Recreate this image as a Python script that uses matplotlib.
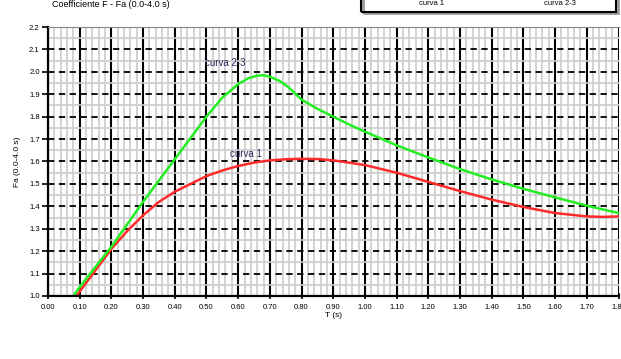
import matplotlib
matplotlib.use('Agg')
import matplotlib.pyplot as plt
from matplotlib.patches import Rectangle
from matplotlib.ticker import MultipleLocator

plt.rcParams['font.family'] = ['Liberation Sans', 'DejaVu Sans']

# curva 2-3 (verde)
t_verde = [0.08, 0.10, 0.15, 0.20, 0.25, 0.30, 0.35, 0.40, 0.45, 0.50, 0.55, 0.60, 0.63, 0.66,
           0.68, 0.70, 0.73, 0.76, 0.80, 0.85, 0.90, 0.95, 1.00, 1.10, 1.20, 1.30, 1.40, 1.50,
           1.60, 1.70, 1.80]
fa_verde = [1.00, 1.04, 1.13, 1.22, 1.32, 1.42, 1.515, 1.61, 1.705, 1.80, 1.885, 1.945, 1.97, 1.983,
            1.985, 1.978, 1.96, 1.93, 1.876, 1.835, 1.80, 1.765, 1.733, 1.672, 1.618, 1.566, 1.52, 1.478,
            1.44, 1.403, 1.37]

# curva 1 (rossa)
t_rossa = [0.09, 0.10, 0.15, 0.20, 0.25, 0.30, 0.35, 0.40, 0.45, 0.50, 0.55, 0.60, 0.65, 0.70,
           0.75, 0.80, 0.85, 0.90, 0.95, 1.00, 1.10, 1.20, 1.30, 1.40, 1.50, 1.60, 1.70, 1.75, 1.80]
fa_rossa = [1.00, 1.02, 1.115, 1.21, 1.29, 1.36, 1.42, 1.465, 1.50, 1.535, 1.56, 1.58, 1.595, 1.605,
            1.61, 1.612, 1.611, 1.605, 1.595, 1.584, 1.55, 1.509, 1.468, 1.43, 1.397, 1.37, 1.355, 1.353, 1.355]

W, H = 621, 359
fig = plt.figure(figsize=(W / 100, H / 100), dpi=100)
ax = fig.add_axes([48 / W, (H - 296) / H, (618.5 - 48) / W, (296 - 27) / H])

ax.set_xlim(0, 1.8)
ax.set_ylim(1.0, 2.2)
ax.xaxis.set_major_locator(MultipleLocator(0.1))
ax.xaxis.set_minor_locator(MultipleLocator(0.02))
ax.yaxis.set_major_locator(MultipleLocator(0.1))
ax.yaxis.set_minor_locator(MultipleLocator(0.05))

ax.grid(which='minor', axis='both', color='#cccccc', lw=1.2)
ax.grid(which='major', axis='x', color='black', lw=1.5)
ax.grid(which='major', axis='y', color='black', lw=1.3, ls=(0, (3.5, 2.5)))
ax.set_axisbelow(True)

ax.plot(t_rossa, fa_rossa, color='#ff2a2a', lw=1.8)
ax.plot(t_verde, fa_verde, color='#22ee22', lw=1.8)

ax.text(0.495, 2.04, 'curva 2-3', fontsize=7, color='#2a2a5a', ha='left', va='center')
ax.text(0.575, 1.635, 'curva 1', fontsize=7, color='#2a2a5a', ha='left', va='center')

ax.set_xticks([i / 10 for i in range(19)])
ax.set_xticklabels(['%.2f' % (i / 10) for i in range(19)])
ax.set_yticks([1 + i / 10 for i in range(13)])
ax.set_yticklabels(['%.1f' % (1 + i / 10) for i in range(13)])
ax.tick_params(axis='x', which='major', direction='inout', length=5, width=1.2, labelsize=5.5, pad=3)
ax.tick_params(axis='y', which='major', direction='out', length=4, width=1.2, labelsize=5.5, pad=2)
ax.tick_params(which='minor', length=0)

for s in ['left', 'bottom']:
    ax.spines[s].set_linewidth(1.6)
ax.spines['top'].set_color('#888888')
ax.spines['right'].set_visible(False)

ax.set_xlabel('T (s)', fontsize=6, labelpad=1)
ax.set_ylabel('Fa (0.0-4.0 s)', fontsize=6, labelpad=6)

# titolo e riquadro legenda in alto
fig.text(52 / W, 1.0, 'Coefficiente F - Fa (0.0-4.0 s)', fontsize=6.5, ha='left', va='top')
fig.patches.append(Rectangle((363 / W, (H - 13) / H), (618 - 363) / W, 0.2, transform=fig.transFigure,
                             fill=False, ec='#9a9a9a', lw=2.0, zorder=1))
fig.patches.append(Rectangle((361 / W, (H - 11.5) / H), (616 - 361) / W, 0.2, transform=fig.transFigure,
                             fill=False, ec='black', lw=1.5, zorder=2))
fig.text(432 / W, 1.0, 'curva 1', fontsize=5.5, ha='center', va='top')
fig.text(560 / W, 1.0, 'curva 2-3', fontsize=5.5, ha='center', va='top')

fig.savefig('out.png', dpi=100)
